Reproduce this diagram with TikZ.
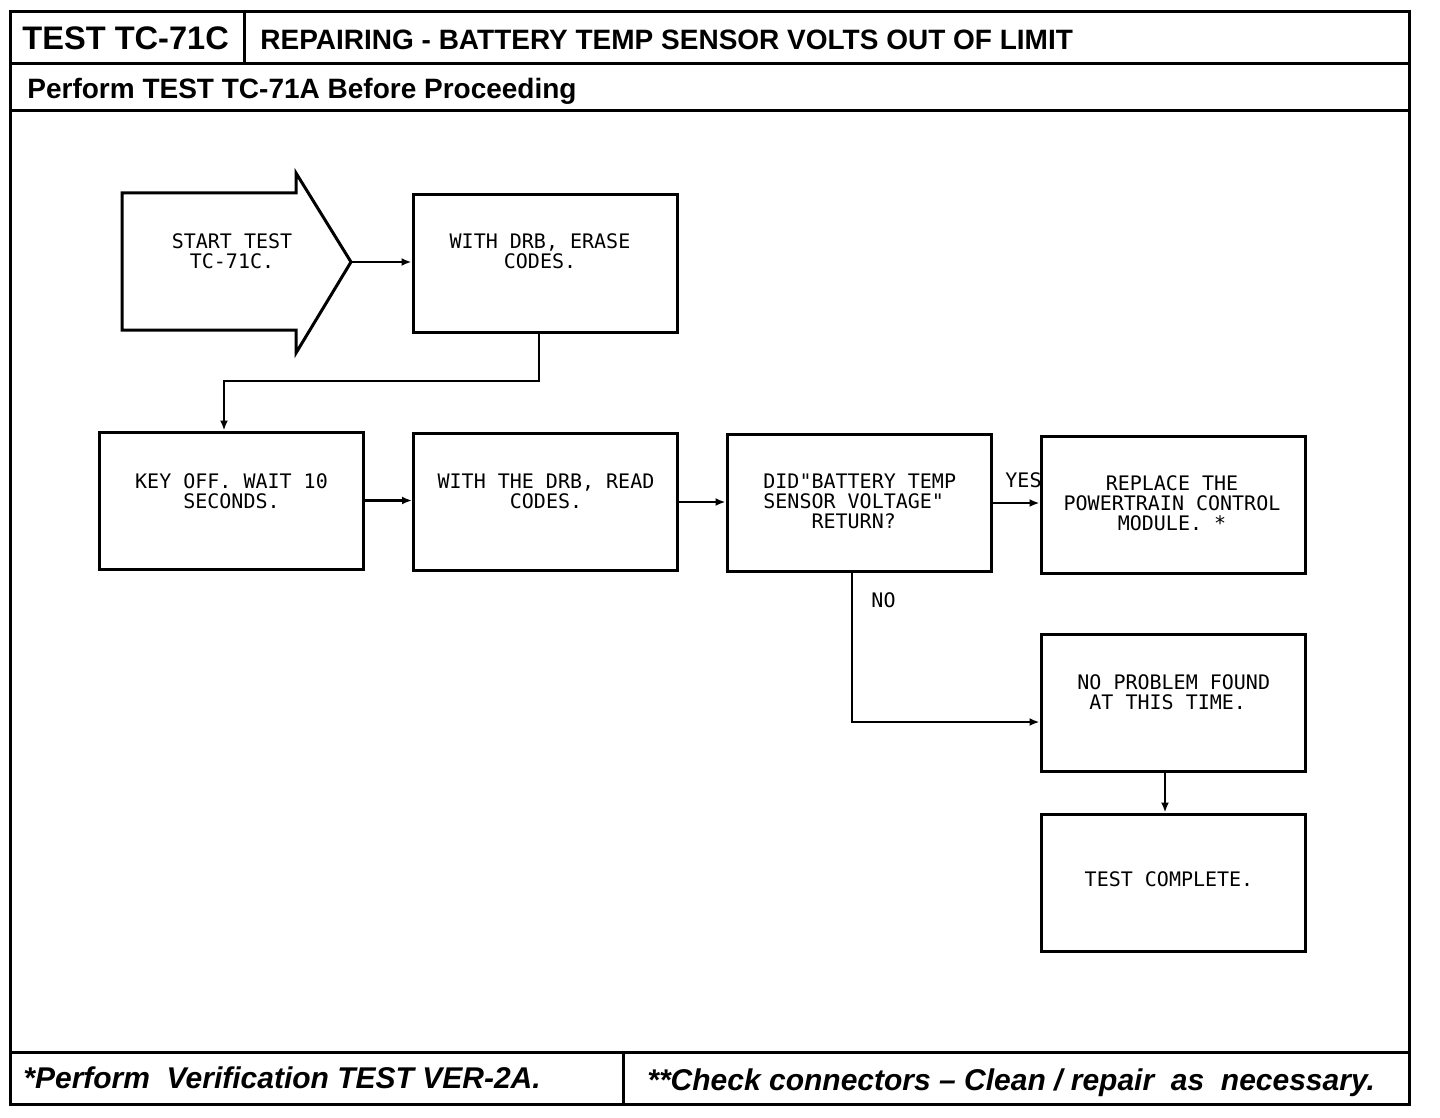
\documentclass[tikz,border=0pt]{standalone}
\usepackage{fontspec}
\setmainfont{Liberation Sans}
\newfontfamily\plotfont{DejaVu Sans Mono}
\usetikzlibrary{arrows.meta,calc}
\begin{document}
\begin{tikzpicture}[x=0.5pt,y=-0.5pt,
  frame/.style={line width=1.5pt},
  stepbox/.style={draw,line width=1.5pt,minimum width=132pt,minimum height=68.5pt,inner sep=0pt},
  startshape/.style={draw,line width=1.5pt,line join=miter},
  boxtext/.style={font={\plotfont\fontsize{10pt}{10pt}\selectfont},inner sep=0pt},
  conn/.style={line width=1.2pt,-{Latex[length=5pt,width=4pt]}},
  hdr/.style={anchor=base west,inner sep=0pt,font={\bfseries\fontsize{14pt}{16pt}\selectfont}},
  foot/.style={anchor=base west,inner sep=0pt,font={\bfseries\itshape\fontsize{15pt}{17pt}\selectfont}}
]
\useasboundingbox (0,0) rectangle (1440,1118);
% frame
\draw[frame] (10,12) rectangle (1409,1104);
\draw[frame] (10,64) -- (1409,64);
\draw[frame] (244,12) -- (244,64);
\draw[frame] (10,111) -- (1409,111);
\draw[frame] (10,1052) -- (1409,1052);
\draw[frame] (623,1052) -- (623,1104);
% header texts
\node[hdr,font={\bfseries\fontsize{16.3pt}{18pt}\selectfont}] (title) at (22,50) {TEST TC-71C};
\node[hdr] (heading) at (260,50) {REPAIRING - BATTERY TEMP SENSOR VOLTS OUT OF LIMIT};
\node[hdr] (pre) at (27,99) {Perform TEST TC-71A Before Proceeding};
% footer texts
\node[foot] (note1) at (23,1088) {*Perform~\ Verification TEST VER-2A.};
\node[foot] (note2) at (647,1090) {**Check connectors – Clean / repair~\ as~\ necessary.};
% start arrow
\draw[startshape] (122,193) -- (296,193) -- (296,173) -- (351,262) -- (296,353) -- (296,330) -- (122,330) -- cycle;
\coordinate (starttip) at (351,262);
\node[boxtext,align=center] (start) at (232,251) {START TEST\\TC-71C.};
% boxes
\node[stepbox] (erase) at (545,263.5) {};
\node[stepbox] (key) at (231,500.5) {};
\node[stepbox] (read) at (545.5,502) {};
\node[stepbox] (did) at (859,503) {};
\node[stepbox] (repl) at (1173,504.5) {};
\node[stepbox] (nopb) at (1173,703) {};
\node[stepbox] (done) at (1173,882.5) {};
% box texts
\node[boxtext,align=center] (erase-t) at (540,251.5) {WITH DRB, ERASE\\CODES.};
\node[boxtext,align=center] (key-t) at (231.5,491) {KEY OFF. WAIT 10\\SECONDS.};
\node[boxtext,align=center] (read-t) at (546,491.5) {WITH THE DRB, READ\\CODES.};
\node[boxtext,align=left,anchor=west] (did-t) at (763,501.5) {DID"BATTERY TEMP\\SENSOR VOLTAGE"\\\ \ \ \ RETURN?};
\node[boxtext,align=center] (repl-t) at (1172,503) {REPLACE THE\\POWERTRAIN CONTROL\\MODULE. *};
\node[boxtext,align=left,anchor=west] (nopb-t) at (1077,692.5) {NO PROBLEM FOUND\\\ AT THIS TIME.};
\node[boxtext] (done-t) at (1169,879) {TEST COMPLETE.};
% connectors
\coordinate (bend) at (539,381);
\draw[conn] (starttip) -- (starttip -| erase.west);
\draw[conn] ([xshift=-3pt]erase.south) |- (bend) -| ([xshift=-3.5pt]key.north);
\draw[conn] (key.east) -- (key.east -| read.west);
\draw[conn] (read.east) -- (read.east -| did.west);
\draw[conn] (did.east) -- (did.east -| repl.west);
\node[boxtext] (yes) at (1023.5,480.5) {YES};
\draw[conn] ([xshift=-3.5pt]did.south) |- ([yshift=-9.5pt]nopb.west);
\node[boxtext] (no) at (883.5,600.5) {NO};
\draw[conn] ([xshift=-4pt]nopb.south) -- ([xshift=-4pt]done.north);
\end{tikzpicture}
\end{document}
